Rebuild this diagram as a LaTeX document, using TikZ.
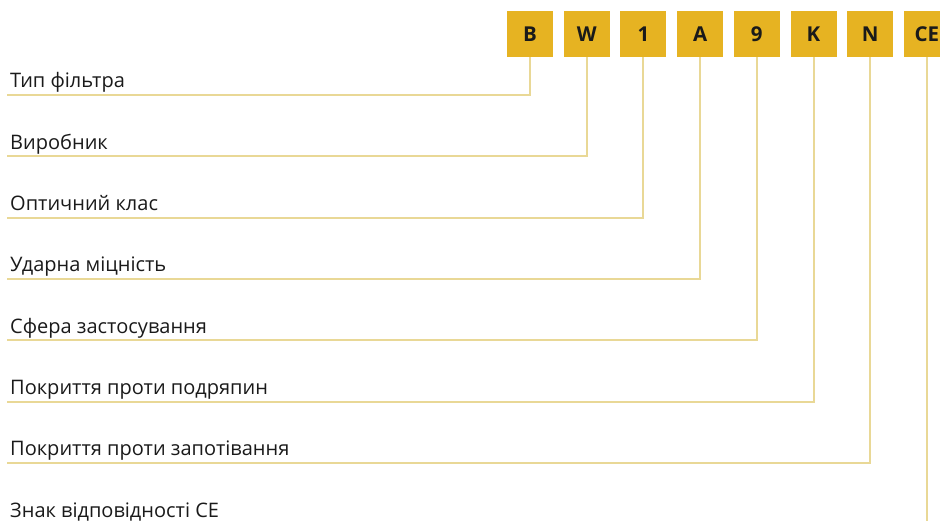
\documentclass[tikz,border=0pt]{standalone}
\usepackage{fontspec}
\setmainfont{Open Sans}
\usetikzlibrary{positioning}

\definecolor{codebox}{RGB}{230,179,34}
\definecolor{leadline}{RGB}{233,216,150}
\definecolor{labeltext}{RGB}{26,26,26}

\begin{document}
\begin{tikzpicture}[
    x=1pt, y=-1pt,
    letterbox/.style={fill=codebox, minimum width=46pt, minimum height=46pt, inner sep=0pt,
      font=\fontsize{20.5}{22}\selectfont\bfseries, text=labeltext},
    desc/.style={anchor=base west, inner sep=0pt, font=\fontsize{20}{22}\selectfont, text=labeltext},
    lead/.style={leadline, line width=2pt}
  ]
  \clip (0,0) rectangle (940,521);
  \useasboundingbox (0,0) rectangle (940,521);

  % code letters along the top
  \foreach \name/\letter [count=\i from 0] in {cb/B, cw/W, c1/1, ca/A, c9/9, ck/K, cn/N, cce/CE}
    \node[letterbox] (\name) at ({530+56.7*\i},34) {\letter};

  % descriptions and their leader lines
  \foreach \name/\txt [count=\i from 0] in {
      cb/Тип фільтра,
      cw/Виробник,
      c1/Оптичний клас,
      ca/Ударна міцність,
      c9/Сфера застосування,
      ck/Покриття проти подряпин,
      cn/Покриття проти запотівання} {
    \node[desc] (d\name) at (10,{88+61.3*\i}) {\txt};
    \coordinate (e\name) at (7,{95+61.3*\i});
    \draw[lead] (\name.south) |- (e\name);
  }

  % last code: no horizontal leader
  \node[desc] (dcce) at (10,517) {Знак відповідності CE};
  \coordinate (ecce) at (cce.south |- 0,521);
  \draw[lead] (cce.south) -- (ecce);
\end{tikzpicture}
\end{document}
